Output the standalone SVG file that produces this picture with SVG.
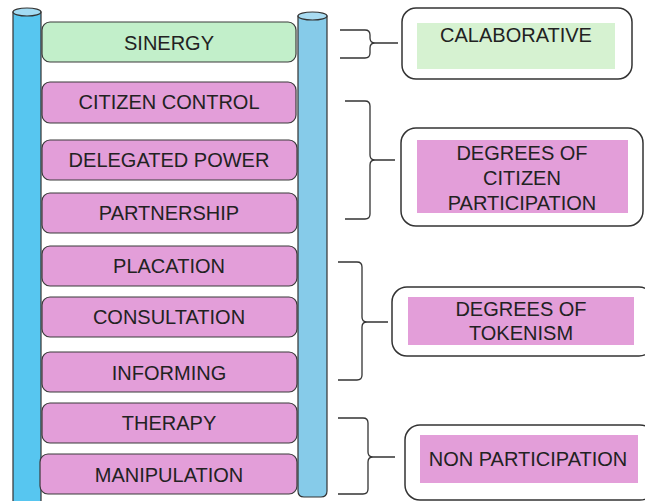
<svg xmlns="http://www.w3.org/2000/svg" width="645" height="501" viewBox="0 0 645 501">
<style>
.bar{stroke:#3a3a3a;stroke-width:1.2}
.g{fill:#c2efca}
.p{fill:#e39ed9}
.t{font-family:"Liberation Sans",Arial,sans-serif;font-size:20px;fill:#222;text-anchor:middle}
.box{fill:#fff;stroke:#333;stroke-width:1.5}
.brace{fill:none;stroke:#333;stroke-width:1.3}
.pole{stroke:#333;stroke-width:1.2}
</style>
<rect width="645" height="501" fill="#fff"/>
<g id="pole-left">
<path class="pole" d="M13,12 L13,505 L41,505 L41,12 Z" fill="#57c6f0"/>
<ellipse class="pole" cx="27" cy="12" rx="14" ry="4" fill="#a2dbf3"/>
</g>
<g id="pole-right">
<path class="pole" d="M298,16 L298,491 Q298,497 304,497 L321,497 Q327,497 327,491 L327,16 Z" fill="#86cbe9"/>
<ellipse class="pole" cx="312.5" cy="16" rx="14.5" ry="4" fill="#a9dcf2"/>
</g>
<g id="sinergy"><rect class="bar g" x="42" y="22" width="254" height="40" rx="8"/><text class="t" x="169" y="50">SINERGY</text></g>
<g id="citizen-control"><rect class="bar p" x="42" y="82" width="254" height="41" rx="8"/><text class="t" x="169" y="109">CITIZEN CONTROL</text></g>
<g id="delegated-power"><rect class="bar p" x="42" y="140" width="255" height="40" rx="8"/><text class="t" x="169" y="167">DELEGATED POWER</text></g>
<g id="partnership"><rect class="bar p" x="42" y="193" width="255" height="40" rx="8"/><text class="t" x="169" y="220">PARTNERSHIP</text></g>
<g id="placation"><rect class="bar p" x="42" y="246" width="255" height="40" rx="8"/><text class="t" x="169" y="273">PLACATION</text></g>
<g id="consultation"><rect class="bar p" x="42" y="297" width="255" height="40" rx="8"/><text class="t" x="169" y="324">CONSULTATION</text></g>
<g id="informing"><rect class="bar p" x="42" y="352" width="255" height="40" rx="8"/><text class="t" x="169" y="380">INFORMING</text></g>
<g id="therapy"><rect class="bar p" x="42" y="403" width="255" height="40" rx="8"/><text class="t" x="169" y="430">THERAPY</text></g>
<g id="manipulation"><rect class="bar p" x="40" y="454" width="257" height="40" rx="8"/><text class="t" x="169" y="482">MANIPULATION</text></g>

<g id="connectors">
<path class="brace" d="M340,30 L365,30 Q370,30 370,35 L370,38 Q370,43 375,43 L398,43 M375,43 Q370,43 370,48 L370,53 Q370,58 365,58 L340,58"/>
<path class="brace" d="M345,101 L365,101 Q370,101 370,106 L370,155 Q370,160 375,160 L395,160 M375,160 Q370,160 370,165 L370,214 Q370,219 365,219 L345,219"/>
<path class="brace" d="M338,262 L357,262 Q362,262 362,267 L362,317 Q362,322 367,322 L388,322 M367,322 Q362,322 362,327 L362,375 Q362,380 357,380 L338,380"/>
<path class="brace" d="M338,418 L363,418 Q368,418 368,423 L368,452 Q368,457 373,457 L395,457 M373,457 Q368,457 368,462 L368,489 Q368,494 363,494 L338,494"/>
</g>

<g id="calaborative"><rect class="box" x="402" y="8" width="230" height="71" rx="14"/><rect x="417" y="23" width="198" height="46" fill="#d6f2d1"/><text class="t" x="516" y="42">CALABORATIVE</text></g>
<g id="degrees-citizen"><rect class="box" x="401" y="128" width="242" height="98" rx="15"/><rect x="417" y="140" width="211" height="73" class="p"/><text class="t" x="522" y="160">DEGREES OF</text><text class="t" x="522" y="185">CITIZEN</text><text class="t" x="522" y="210">PARTICIPATION</text></g>
<g id="degrees-tokenism"><rect class="box" x="392" y="287" width="262" height="69" rx="15"/><rect x="408" y="297" width="226" height="48" class="p"/><text class="t" x="521" y="316">DEGREES OF</text><text class="t" x="521" y="340">TOKENISM</text></g>
<g id="non-participation"><rect class="box" x="405" y="425" width="250" height="75" rx="15"/><rect x="420" y="435" width="218" height="48" class="p"/><text class="t" x="528" y="466">NON PARTICIPATION</text></g>
</svg>
